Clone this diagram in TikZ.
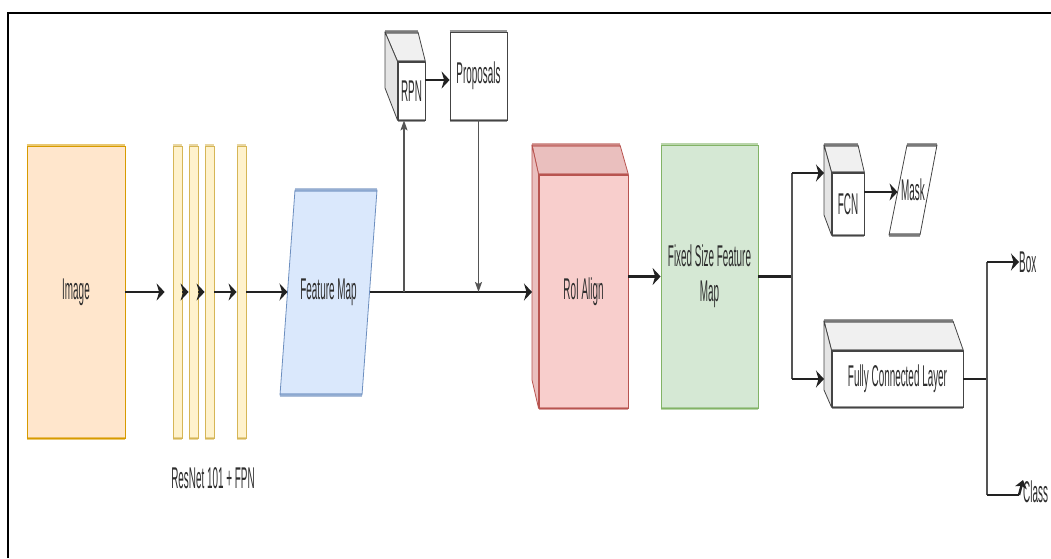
\documentclass[tikz,border=0pt]{standalone}
\usepackage{fontspec}
\newfontfamily\tallfont{Liberation Sans}[FakeStretch=0.33]
\usetikzlibrary{arrows.meta,calc}
\definecolor{orfill}{HTML}{FFE6CC}
\definecolor{orline}{HTML}{D79B00}
\definecolor{yefill}{HTML}{FFF2CC}
\definecolor{yeline}{HTML}{D6B656}
\definecolor{blfill}{HTML}{DAE8FC}
\definecolor{blline}{HTML}{6C8EBF}
\definecolor{rdfill}{HTML}{F8CECC}
\definecolor{rdline}{HTML}{B85450}
\definecolor{rdside}{HTML}{EABFBE}
\definecolor{grfill}{HTML}{D5E8D4}
\definecolor{grline}{HTML}{82B366}
\definecolor{cubetop}{HTML}{F0F0F0}
\definecolor{cubeside}{HTML}{E4E4E4}
\definecolor{cubeline}{HTML}{444444}
\definecolor{txtc}{HTML}{2E2E2E}
\definecolor{conn}{HTML}{222222}
\definecolor{connv}{HTML}{555555}
\begin{document}
\begin{tikzpicture}[x=1pt,y=-1pt,
  txt/.style={font=\tallfont\fontsize{30}{35}\selectfont, text=txtc, align=center},
  box/.style={draw, line width=0.8pt, inner sep=0pt, txt},
  bar/.style={box, fill=yefill, draw=yeline, minimum width=9pt, minimum height=292pt},
  hedge/.style={line width=3.5pt, draw opacity=0.55},
  hl/.style={draw=conn, line width=2.4pt},
  vl/.style={draw=connv, line width=1.1pt},
  harr/.style={-{Stealth[length=8pt,width=17pt,inset=2.5pt]}},
  varr/.style={-{Stealth[length=10pt,width=7pt,inset=2pt]}},
  face/.style={line width=0.8pt, line join=round}
]
\useasboundingbox (0,0) rectangle (1051,558);
\fill[white] (0,0) rectangle (1051,558);
% frame
\draw[line width=2.2pt] (8,558) -- (8,13) -- (1051,13);

% image
\node[box, fill=orfill, draw=orline, minimum width=98pt, minimum height=292pt] (image) at (76,292) {Image};
\draw[hedge, orline] (image.north west) -- (image.north east);
\draw[hedge, orline] (image.south west) -- (image.south east);

% resnet bars
\node[bar] (b1) at (177.5,292) {};
\node[bar] (b2) at (193.5,292) {};
\node[bar] (b3) at (209.5,292) {};
\node[bar] (b4) at (241.5,292) {};
\foreach \b in {b1,b2,b3,b4}{
  \draw[hedge, yeline] (\b.north west) -- (\b.north east);
  \draw[hedge, yeline] (\b.south west) -- (\b.south east);
}
\node[txt] (resnet) at (213,478) {ResNet 101 + FPN};

% feature map
\filldraw[face, fill=blfill, draw=blline] (295,190) -- (377,190) -- (362,395) -- (280,395) -- cycle;
\draw[hedge, blline] (295,190) -- (377,190);
\draw[hedge, blline] (280,395) -- (362,395);
\node[txt] (fm) at (328.5,292) {Feature Map};
\coordinate (fmL) at (287.5,292);
\coordinate (fmR) at (369.5,292);

% RPN cube
\node[box, fill=white, draw=cubeline, minimum width=27pt, minimum height=58pt] (rpn) at (411.5,91) {RPN};
\filldraw[face, fill=cubetop, draw=cubeline] (385,32) -- (418,32) -- (rpn.north east) -- (rpn.north west) -- cycle;
\filldraw[face, fill=cubeside, draw=cubeline] (385,32) -- (rpn.north west) -- (rpn.south west) -- (385,88) -- cycle;
\draw[hedge, cubeline] (385,32) -- (418,32);
\draw[hedge, cubeline] (rpn.north west) -- (rpn.north east);
\draw[hedge, cubeline] (rpn.south west) -- (rpn.south east);

% proposals
\node[box, fill=white, draw=cubeline, minimum width=57pt, minimum height=88pt] (prop) at (478.5,76) {Proposals};
\draw[hedge, cubeline] (prop.north west) -- (prop.north east);
\draw[hedge, cubeline] (prop.south west) -- (prop.south east);

% RoI Align cube
\node[box, fill=rdfill, draw=rdline, minimum width=89pt, minimum height=233pt] (roi) at (583.5,291.5) {RoI Align};
\filldraw[face, fill=rdside, draw=rdline] (532,145) -- (620,145) -- (roi.north east) -- (roi.north west) -- cycle;
\filldraw[face, fill=rdside, draw=rdline] (532,145) -- (roi.north west) -- (roi.south west) -- (532,380) -- cycle;
\draw[hedge, rdline] (532,145) -- (620,145);
\draw[hedge, rdline] (roi.north west) -- (roi.north east);
\draw[hedge, rdline] (roi.south west) -- (roi.south east);
\coordinate (roiL) at (532,292);

% fixed size feature map
\node[box, fill=grfill, draw=grline, minimum width=97pt, minimum height=263pt] (fsfm) at (709.5,276.5) {Fixed Size Feature\\Map};
\draw[hedge, grline] (fsfm.north west) -- (fsfm.north east);
\draw[hedge, grline] (fsfm.south west) -- (fsfm.south east);

% FCN cube
\node[box, fill=white, draw=cubeline, minimum width=32pt, minimum height=62pt] (fcn) at (848,204) {FCN};
\filldraw[face, fill=cubetop, draw=cubeline] (824,145) -- (858,145) -- (fcn.north east) -- (fcn.north west) -- cycle;
\filldraw[face, fill=cubeside, draw=cubeline] (824,145) -- (fcn.north west) -- (fcn.south west) -- (824,215) -- cycle;
\draw[hedge, cubeline] (824,145) -- (858,145);
\draw[hedge, cubeline] (fcn.north west) -- (fcn.north east);
\draw[hedge, cubeline] (fcn.south west) -- (fcn.south east);
\coordinate (fcnIn) at (824,173);

% mask
\filldraw[face, fill=white, draw=cubeline] (907,145) -- (937,145) -- (920,235) -- (889,235) -- cycle;
\draw[hedge, cubeline] (907,145) -- (937,145);
\draw[hedge, cubeline] (889,235) -- (920,235);
\node[txt] (mask) at (913,190) {Mask};
\coordinate (maskL) at (897.6,192);

% fully connected layer
\node[box, fill=white, draw=cubeline, minimum width=131pt, minimum height=56pt] (fc) at (897.5,379) {Fully Connected Layer};
\filldraw[face, fill=cubetop, draw=cubeline] (824,321) -- (953,321) -- (fc.north east) -- (fc.north west) -- cycle;
\filldraw[face, fill=cubeside, draw=cubeline] (824,321) -- (fc.north west) -- (fc.south west) -- (824,390) -- cycle;
\draw[hedge, cubeline] (824,321) -- (953,321);
\draw[hedge, cubeline] (fc.north west) -- (fc.north east);
\draw[hedge, cubeline] (fc.south west) -- (fc.south east);
\coordinate (fcIn) at (824,379);

% outputs
\node[txt, anchor=west, inner sep=0pt] (box) at (1019,262) {Box};
\node[txt, anchor=west, inner sep=0pt] (cls) at (1023,492) {Class};

% connectors
\draw[hl, harr, shorten >=8pt] (image.east) -- (b1.west);
\draw[hl, harr] (b1.east) -- (b2.west);
\draw[hl, harr] (b2.east) -- (b3.west);
\draw[hl, harr] (b3.east) -- (b4.west);
\draw[hl, harr] (b4.east) -- (fmL);
\draw[hl, harr] (fmR) -- (roiL);
\coordinate (upx) at (404,292);
\draw[vl, varr] (upx) -- (upx |- rpn.south);
\draw[hl, harr] ([yshift=11pt]rpn.east) -- ([yshift=11pt]rpn.east -| prop.west);
\draw[vl, varr] (prop.south) -- (prop.south |- fmR);
\draw[hl, harr] (roi.east |- fsfm.west) -- (fsfm.west);
\coordinate (split) at (792,276.5);
\draw[hl] (fsfm.east) -- (split);
\draw[vl] (split |- fcnIn) -- (split |- fcIn);
\draw[hl, harr] (split |- fcnIn) -- (fcnIn);
\draw[hl, harr] (split |- fcIn) -- (fcIn);
\draw[hl, harr] (fcn.east |- maskL) -- (maskL);
\coordinate (fcsplit) at (987,379);
\draw[hl] (fc.east) -- (fcsplit);
\draw[vl] (fcsplit |- box.west) -- (987,495);
\draw[hl, harr] (fcsplit |- box.west) -- (box.west);
\coordinate (clsBend) at (1019,495);
\draw[hl] (987,495) -- (clsBend);
\draw[hl, -{Stealth[length=8pt,width=12pt,inset=2pt]}] (clsBend) -- ([yshift=12pt]cls.west);
\end{tikzpicture}
\end{document}
